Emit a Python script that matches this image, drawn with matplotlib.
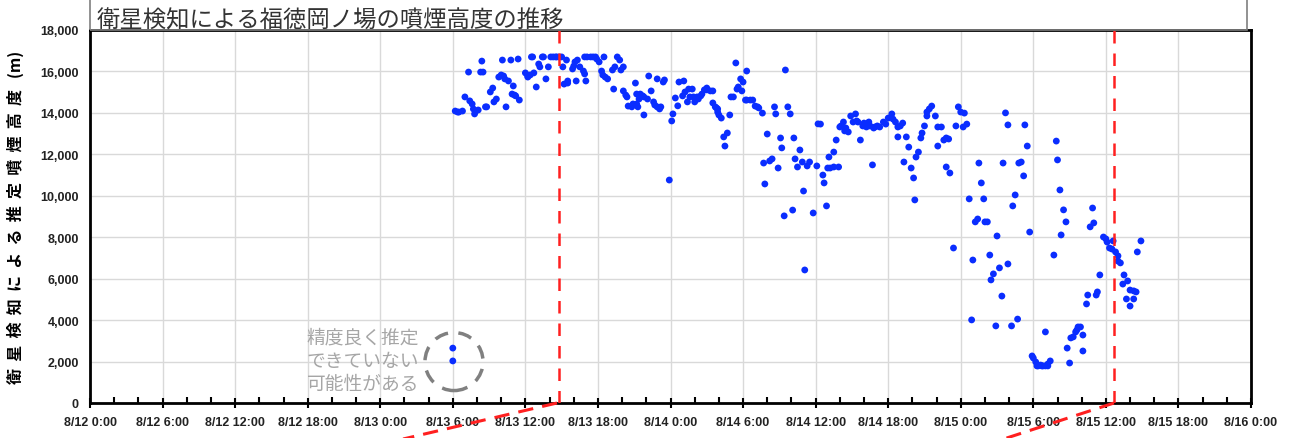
import matplotlib
matplotlib.use('Agg')
import matplotlib.pyplot as plt
import matplotlib.dates as mdates
from matplotlib.patches import Ellipse, Rectangle
from matplotlib.lines import Line2D
import pandas as pd

# 8/12 0:00 からの経過時間 (h) と噴煙高度 (m)
hours = [
    30.2, 30.4, 30.5, 30.8, 31.0, 31.3, 31.4, 31.6, 31.7, 31.8, 31.9, 32.1, 32.3, 32.5, 32.4, 32.7, 32.8,
    33.1, 33.3, 33.4, 33.6, 33.8, 34.0, 34.2, 34.1, 34.3, 34.6, 34.8, 34.4, 35.0, 34.9, 35.1, 35.2, 35.5,
    35.4, 36.0, 36.2, 36.2, 36.4, 36.7, 36.5, 36.6, 36.9, 37.1, 37.2, 37.4, 37.5, 37.7, 37.9, 38.1, 38.3,
    38.5, 38.6, 38.8, 39.0, 39.1, 39.4, 39.2, 39.5, 39.5, 39.9, 40.0, 40.1, 40.3, 40.5, 40.8, 40.9, 40.2,
    41.0, 40.9, 41.1, 41.4, 41.6, 41.8, 41.9, 42.1, 42.3, 42.4, 42.6, 42.8, 42.5, 43.2, 43.4, 43.6, 43.8,
    43.9, 44.1, 43.3, 44.1, 44.3, 44.4, 44.5, 44.8, 44.9, 45.1, 45.2, 45.4,
    45.2, 45.3, 45.5, 45.7, 45.8, 45.8, 46.1, 46.2, 46.4, 46.6, 46.7, 46.9, 47.1, 47.2, 46.9, 47.4, 47.5,
    48.1, 48.2, 48.4, 48.6, 47.9, 48.7, 49.0, 49.1, 49.2, 49.4, 49.5, 49.8, 49.6, 49.9, 50.0, 50.2, 50.3,
    50.5, 50.6, 50.8, 51.0, 51.0, 51.3, 51.5, 51.5, 51.7, 51.8, 51.9, 51.9, 52.0, 52.2, 52.4, 52.5, 52.7,
    52.9, 53.0, 53.2, 53.4, 53.5, 53.6, 53.8, 53.9, 54.0, 54.3, 54.2, 54.3, 54.6, 54.8, 55.0, 55.2, 55.3,
    55.6, 55.7, 55.8, 56.0, 56.2, 56.4, 56.9, 56.6, 56.7, 57.1, 57.2, 57.4, 57.5, 57.7, 57.9, 58.1, 58.2,
    58.3, 58.5, 58.7, 58.9, 59.0, 59.1, 59.3, 59.5, 59.8, 60.1, 60.2, 60.6, 60.7, 60.9, 61.0, 61.1,
    60.4, 61.2, 61.5, 61.9, 61.5, 61.7, 62.0, 62.1, 62.3, 62.4, 62.5, 62.7, 62.9, 63.1, 63.3, 63.4, 63.5,
    63.7, 63.9, 64.0, 64.2, 64.4, 64.5, 64.8, 64.9, 65.1, 65.3, 65.6, 65.8, 66.0, 66.3, 66.4, 66.6, 66.8,
    67.0, 67.2, 64.7, 66.8, 67.5, 67.3, 67.7, 67.9, 68.1, 68.2, 68.3, 68.5, 68.7, 68.8, 69.0, 69.2, 69.2,
    69.4, 69.6, 69.9, 70.1, 70.1, 70.4, 70.6, 70.8, 71.0, 70.8, 71.1, 71.4, 71.6, 71.8, 72.0, 72.2, 72.3,
    72.5, 72.7, 73.0, 72.9, 73.2, 73.4, 73.5, 73.7, 73.9, 74.0, 74.2, 74.4, 74.5, 74.7, 75.0, 75.2, 75.4,
    74.9, 75.5, 75.7, 75.9, 75.9, 76.2, 76.3, 76.5, 76.7, 76.8,
    77.0, 77.2, 77.3, 77.5, 77.7, 77.9, 78.0, 78.2, 78.3, 78.4, 78.6, 78.7, 78.8, 79.0, 79.2, 79.2, 79.4,
    79.0, 79.7, 79.9, 80.0, 80.2, 80.3, 80.5, 80.7, 80.8, 81.0, 81.1, 81.3, 81.5, 81.6, 81.7, 81.9, 82.1,
    82.1, 82.4, 82.5, 82.7, 82.9, 83.0, 83.2, 83.3, 83.5, 83.8, 84.0, 84.1, 84.3, 84.5, 84.6, 84.8, 85.0,
    85.0, 85.2, 85.4, 85.5, 85.8, 86.0, 86.3, 86.5, 85.7, 86.0, 86.3, 86.6, 86.9,
    30.0, 30.0,
]
height_m = [
    14090, 14040, 14040, 14090, 14770, 15970, 14580, 14430, 14190, 13950, 14090, 14140, 15970, 15970, 16500, 14290, 14290,
    15010, 15200, 14530, 14670, 15730, 15830, 15780, 16550, 15640, 15540, 16550, 14290, 15300, 14910, 14860, 14820, 14620,
    16600, 15930, 15780, 15730, 15830, 15930, 16700, 16700, 15250, 16360, 16220, 16700, 16700, 15640, 16220, 16700, 16700,
    16700, 16700, 16700, 16700, 16220, 16550, 15390, 15540, 15440, 16120, 16260, 16460, 16550, 16220, 16020, 15880, 15540,
    15540, 16700, 16700, 16700, 16700, 16700, 16600, 16460, 16020, 15830, 15730, 15640, 16700, 16070, 16220, 16700, 16550,
    16070, 16220, 15150, 15060, 14860, 14770, 14330, 14290, 14430, 15440, 14910, 14670,
    14430, 14290, 14910, 14820, 14770, 13900, 14670, 15780, 15060, 14530, 14380, 14290, 14190, 14290, 15640, 15490, 15590,
    13610, 13950, 14720, 14340, 10760, 15490, 14820, 15540, 15010, 14530, 15150, 15150, 14770, 14770, 14530, 14770, 14670,
    14820, 14910, 15110, 15200, 15110, 15060, 15060, 14480, 14290, 14240, 14190, 14040, 13900, 13750, 12840, 12400, 13030,
    13900, 14770, 14770, 16410, 15150, 15250, 15640, 15060, 15490, 16020, 14620, 14620, 14620, 14620, 14330, 14290, 14240,
    13990, 11580, 10570, 12980, 11680, 11780, 11340, 14290, 13950, 12790, 12310, 9030, 16070, 14290, 13950, 9310, 12790,
    11780, 11390, 12210, 11630, 10230, 6420, 11440, 11630, 9170, 11440, 13470, 11000, 10620, 9510, 11340, 11870,
    13460, 11340, 11390, 11390, 12110, 12690, 13320, 13370, 13560, 13130, 13270, 13080, 13850, 13560, 13950, 13610, 13560,
    12690, 13370, 13510, 13320, 13560, 13370, 13270, 13320, 13370, 13320, 13560, 13460, 13750, 13950, 13700, 13560, 13320,
    13370, 13510, 11490, 12840, 12840, 11630, 12350, 11340, 10860, 9800, 11870, 12110, 12790, 13030, 13370, 13850, 14040,
    14190, 14330, 13850, 12400, 13320, 13320, 12690, 12790, 12740, 11390, 11100, 7480, 13370, 14290, 14040, 13320, 13990,
    13460, 9850, 6900, 4010, 8740, 8880, 11580, 10620, 9850, 8740, 8740, 7140, 5940, 6230, 8060, 6520, 5160,
    3720, 11580, 14000, 13420, 6710, 3720, 9510, 10040, 4050, 11580,
    11630, 10960, 13420, 12400, 8250, 2270, 2170, 1980, 1790, 1790, 1830, 1790, 1790, 1790, 1790, 1880, 2030,
    3430, 7140, 12640, 11730, 10280, 8110, 9320, 8740, 2650, 1930, 3140, 3190, 3430, 3520, 3670, 3670, 3280,
    2510, 4780, 5210, 8500, 9410, 8690, 5210, 5360, 6180, 8010, 7920, 7770, 7480, 7430, 7820, 7290, 7100,
    6850, 6760, 5740, 6180, 5890, 5450, 5410, 5360, 5020, 4680, 5020, 7290, 7820,
    2650, 2030,
]

start = pd.Timestamp('2021-08-12 00:00')
end = pd.Timestamp('2021-08-16 00:00')
marker_times = [pd.Timestamp('2021-08-13 14:45'), pd.Timestamp('2021-08-15 12:40')]

title = '衛星検知による福徳岡ノ場の噴煙高度の推移'
ylabel = '衛星検知による推定噴煙高度 (m)'
note = '精度良く推定\nできていない\n可能性がある'

jp = ['Noto Sans CJK JP', 'DejaVu Sans']
plt.rcParams['font.family'] = jp

times = [start + pd.Timedelta(hours=h) for h in hours]

fig = plt.figure(figsize=(12.93, 4.39), dpi=100)
ax = fig.add_axes([90 / 1293, 1 - 404 / 439, (1251 - 90) / 1293, (404 - 31) / 439])

ax.scatter(times, height_m, s=24, color='#0a2dff', edgecolors='none', zorder=3)

for t in marker_times:
    ax.axvline(t, color='#ff2020', lw=1.8, ls=(0, (5, 4)), zorder=4)

ax.set_xlim(start, end)
ax.set_ylim(0, 18000)
ax.set_yticks(range(0, 18001, 2000))
ax.set_yticklabels([f'{v:,}' for v in range(0, 18001, 2000)])
ax.xaxis.set_major_locator(mdates.HourLocator(byhour=[0, 6, 12, 18]))
ax.xaxis.set_minor_locator(mdates.HourLocator(interval=2))
ax.xaxis.set_major_formatter(plt.FuncFormatter(
    lambda v, p: (lambda d: f'{d.month}/{d.day} {d.hour}:{d.minute:02d}')(mdates.num2date(v))))
ax.grid(True, which='major', color='#d9d9d9', lw=1)
ax.set_axisbelow(True)
for s in ax.spines.values():
    s.set_linewidth(2)
    s.set_color('black')
ax.tick_params(axis='x', which='major', direction='inout', length=7, width=1.5, pad=6)
ax.tick_params(axis='x', which='minor', direction='in', length=4, width=1.5)
ax.tick_params(axis='y', length=0, pad=8)
for lab in ax.get_xticklabels() + ax.get_yticklabels():
    lab.set_family('Liberation Sans')
    lab.set_fontsize(9)
    lab.set_fontweight('bold')
    lab.set_color('#222222')

# 縦軸ラベル (字間を空ける)
ax.set_ylabel('  '.join(ylabel.replace(' (m)', '')) + '   (m)', fontsize=11.5,
              fontweight='bold', labelpad=12)

# 精度の低い点の注記
circ_center = start + pd.Timedelta(hours=30.1)
ax.add_patch(Ellipse((mdates.date2num(circ_center), 2000), width=4.8 / 24, height=2800,
                     fill=False, edgecolor='#808080', lw=2.5, ls=(0, (4, 3)), zorder=4))
ax.text(start + pd.Timedelta(hours=17.9), 2050, note, fontsize=13.5, color='#a6a6a6',
        ha='left', va='center', linespacing=1.15, zorder=5)

# タイトル枠
fig.patches.append(Rectangle((90 / 1293, 1 - 31 / 439), (1247 - 90) / 1293, 0.2,
                             transform=fig.transFigure, fill=False, edgecolor='#7f7f7f', lw=1.2))
fig.text(97 / 1293, 1 - 27 / 439, title, fontsize=16.8, color='#333333', ha='left', va='baseline')

# 拡大範囲への引き出し線
for x0, x1 in [(557, 398), (1114, 1000)]:
    fig.add_artist(Line2D([x0 / 1293, x1 / 1293], [1 - 404 / 439, -0.005], transform=fig.transFigure,
                          color='#ff2020', lw=2.2, ls=(0, (5, 3)), clip_on=False))

fig.savefig('out.png', dpi=100)
